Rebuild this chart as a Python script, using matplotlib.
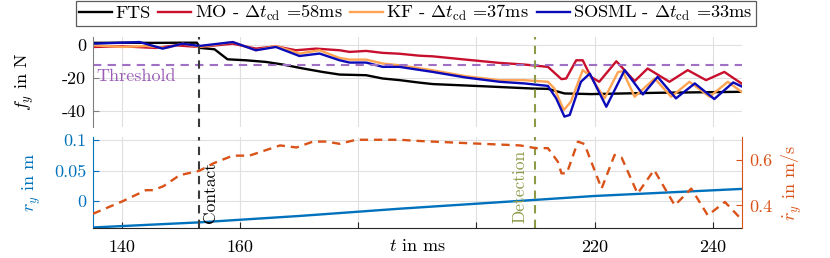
import numpy as np
import matplotlib
matplotlib.use('Agg')
import matplotlib.pyplot as plt

plt.rcParams['font.family'] = 'serif'
plt.rcParams['font.serif'] = ['cmr10']
plt.rcParams['mathtext.fontset'] = 'cm'
plt.rcParams['axes.unicode_minus'] = False
plt.rcParams['font.size'] = 13

###---data---###
# force f_y in N
t_fts = [135, 140, 145, 150, 152.6, 153.2, 155.6, 157.8, 160.9, 164.3, 167.2, 170.6, 173.9, 176.8,
         181.3, 184.1, 187, 190.3, 192.6, 201, 209.5, 212.1, 214.9, 219.4, 230.7, 245]
f_fts = [1.2, 1.3, 1.2, 1.3, 1.3, -1.9, -2.7, -8.8, -9.4, -10.4, -12.0, -14.4, -16.5, -18.1,
         -18.5, -20.5, -21.5, -23.0, -23.9, -25.2, -26.6, -26.8, -29.6, -30.0, -29.2, -28.6]

t_mo = [135, 140, 145.7, 149.1, 153, 158.7, 162.6, 166, 169.4, 172.8, 176.8, 178.5, 181.3, 184.1,
        186.9, 190.3, 192.6, 198.2, 203.9, 208.1, 212.1, 214.4, 215.2, 216.9, 218.0, 219.4, 220.8,
        223.7, 226.8, 229.0, 232.7, 235.8, 238.9, 242.0, 244.9]
f_mo = [-1.3, -0.9, -1.9, -0.3, -1.3, 0.7, -2.3, -0.9, -3.3, -2.3, -3.3, -4.3, -3.7, -4.9,
        -5.4, -6.6, -7.0, -9.0, -11.0, -12.0, -13.4, -20.9, -20.5, -9.4, -9.4, -19.5, -22.5,
        -10.0, -22.1, -14.4, -22.5, -15.4, -21.5, -16.5, -23.5]

t_kf = [135, 140, 144, 147.4, 150.2, 153, 158.7, 162.6, 166, 170, 173.4, 176.8, 178.5, 181.3, 184.1,
        186.9, 192.6, 198.2, 203.9, 208.1, 212.1, 213.2, 214.8, 216.0, 218.0, 219.2, 221.7, 224.0,
        224.8, 226.8, 230.2, 233.0, 236.1, 239.5, 242.6, 244.9]
f_kf = [-0.3, -1.3, -0.7, -1.9, 0.7, -1.3, 1.7, -3.3, -0.7, -5.3, -3.3, -8.0, -9.0, -9.0, -11.4,
        -12.4, -15.5, -19.1, -21.5, -21.5, -22.5, -26.6, -39.7, -34.6, -15.4, -18.5, -32.6, -16.5,
        -16.1, -31.6, -20.5, -31.6, -22.5, -31.6, -22.5, -28.6]

t_sosml = [135, 142.9, 146.8, 150.2, 153, 158.7, 162.6, 166, 170, 173.4, 176.8, 178.5, 181.3, 184.1,
           186.9, 192.6, 198.2, 203.9, 208.1, 212.1, 213.5, 214.9, 215.8, 217.7, 219.2, 222.0, 225.1,
           228.2, 230.7, 233.8, 237.0, 240.3, 243.5, 245.1]
f_sosml = [0.7, 1.7, -2.3, 0.7, -0.7, 1.7, -3.3, -1.3, -6.8, -5.3, -9.4, -10.8, -10.8, -13.4,
           -13.4, -16.5, -19.9, -22.5, -23.5, -25.0, -32.6, -43.7, -42.7, -22.5, -17.5, -37.7, -15.4,
           -30.2, -19.5, -32.6, -23.5, -33.0, -22.9, -25.6]

threshold = -12
t_contact = 152.9
t_detect = 209.9

# position r_y in m and velocity dr_y in m/s
t_r = [135, 153, 170, 187, 210, 220, 245]
r_y = [-0.044, -0.0356, -0.025, -0.013, 0.0016, 0.008, 0.0197]

t_rd = [135, 140, 144, 145.2, 146.9, 149.7, 153, 155.4, 158.7, 161.5, 164.4, 166.7, 169.5, 172.3,
        174.6, 176.8, 179.6, 187, 190, 198.4, 207.4, 210, 212.1, 213.8, 214.4, 215.3, 217.2, 218.3,
        221.2, 223.4, 224.6, 227.3, 230.1, 233.6, 236.4, 239.2, 242.1, 244.8]
rd_y = [0.363, 0.418, 0.467, 0.467, 0.484, 0.533, 0.552, 0.585, 0.619, 0.619, 0.644, 0.664, 0.655, 0.681,
        0.681, 0.671, 0.689, 0.689, 0.684, 0.674, 0.664, 0.652, 0.652, 0.592, 0.541, 0.541, 0.681, 0.67,
        0.474, 0.622, 0.61, 0.452, 0.556, 0.4, 0.474, 0.356, 0.415, 0.341]

labels = ['FTS', r'MO - $\Delta t_{\mathrm{cd}}$ =58ms', r'KF - $\Delta t_{\mathrm{cd}}$ =37ms',
          r'SOSML - $\Delta t_{\mathrm{cd}}$ =33ms']

c_blue = '#0072BD'
c_orange = '#D95319'
c_purple = '#A070C4'
c_olive = '#8E9A48'
c_grid = '#E0E0E0'

fig = plt.figure(figsize=(8.3, 2.58), dpi=100)
ax1 = fig.add_axes([0.112, 0.508, 0.782, 0.350])
ax2 = fig.add_axes([0.112, 0.116, 0.782, 0.352])
ax3 = ax2.twinx()

xticks = [140, 160, 180, 200, 220, 240]

#---top: forces---#
l1, = ax1.plot(t_fts, f_fts, color='black', lw=1.7)
l2, = ax1.plot(t_mo, f_mo, color='#C8102E', lw=1.7)
l3, = ax1.plot(t_kf, f_kf, color='#FFA452', lw=1.7)
l4, = ax1.plot(t_sosml, f_sosml, color='#0A0AB8', lw=1.7)
ax1.axhline(threshold, color=c_purple, ls=(0, (4, 3)), lw=1.5)
ax1.text(135.6, threshold - 2.8, 'Threshold', color='#9A5CB6', ha='left', va='top', fontsize=13)
ax1.axvline(t_contact, color='#3A3A3A', ls=(0, (4, 3)), lw=1.5)
ax1.axvline(t_detect, color=c_olive, ls=(0, (4, 3)), lw=1.5)
ax1.set_xlim(135, 245)
ax1.set_ylim(-50, 5)
ax1.set_yticks([-40, -20, 0])
ax1.set_yticklabels(['-40', '-20', '0'])
ax1.set_xticks(xticks)
ax1.tick_params(axis='x', length=0, labelbottom=False)
ax1.tick_params(axis='y', direction='in', length=4, color='#808080', pad=5)
for s in ['top', 'right', 'bottom']:
    ax1.spines[s].set_visible(False)
ax1.spines['left'].set_color('#808080')
ax1.grid(True, color=c_grid, lw=0.8)
ax1.set_axisbelow(True)
ax1.set_ylabel(r'$f_y$ in N')
ax1.yaxis.set_label_coords(-0.088, 0.5)

#---bottom: position and velocity---#
ax2.plot(t_r, r_y, color=c_blue, lw=1.7)
ax2.axvline(t_contact, color='#3A3A3A', ls=(0, (4, 3)), lw=1.5)
ax2.axvline(t_detect, color=c_olive, ls=(0, (4, 3)), lw=1.5)
ax2.text(t_contact + 0.7, -0.036, 'Contact', rotation=90, ha='left', va='bottom', color='black', fontsize=12.5)
ax2.text(t_detect - 1.3, -0.036, 'Detection', rotation=90, ha='right', va='bottom', color=c_olive, fontsize=12.5)
ax2.set_xlim(135, 245)
ax2.set_ylim(-0.045, 0.105)
ax2.set_yticks([0, 0.05, 0.1])
ax2.set_yticklabels(['0', '0.05', '0.1'])
ax2.set_xticks(xticks)
ax2.set_xticklabels(['140', '160', '', '', '220', '240'])
ax2.tick_params(axis='x', direction='in', length=4, color='#262626', pad=8)
ax2.tick_params(axis='y', direction='in', length=4, color=c_blue, labelcolor=c_blue, pad=5)
ax2.spines['top'].set_visible(False)
ax2.spines['right'].set_visible(False)
ax2.spines['left'].set_color(c_blue)
ax2.spines['bottom'].set_color('#262626')
ax2.grid(True, color=c_grid, lw=0.8)
ax2.set_axisbelow(True)
ax2.set_ylabel(r'$r_y$ in m', color=c_blue)
ax2.yaxis.set_label_coords(-0.077, 0.5)
ax2.set_xlabel(r'$t$ in ms')
ax2.xaxis.set_label_coords(0.5, -0.11)

ax3.plot(t_rd, rd_y, color=c_orange, lw=1.7, ls=(0, (3.5, 2.5)))
ax3.set_ylim(0.3, 0.7)
ax3.set_yticks([0.4, 0.6])
ax3.set_yticklabels(['0.4', '0.6'])
ax3.tick_params(axis='y', direction='in', length=4, color=c_orange, labelcolor=c_orange, pad=5)
ax3.spines['top'].set_visible(False)
ax3.spines['left'].set_visible(False)
ax3.spines['bottom'].set_visible(False)
ax3.spines['right'].set_color(c_orange)
ax3.set_ylabel(r'$\dot{r}_y$ in m/s', color=c_orange)
ax3.yaxis.set_label_coords(1.0586, 0.5)

leg = fig.legend([l1, l2, l3, l4], labels, loc='upper center', bbox_to_anchor=(0.501, 0.998),
                 ncol=4, frameon=True, fancybox=False, edgecolor='#333333', fontsize=13.2,
                 handlelength=1.8, handletextpad=0.2, columnspacing=0.4, borderpad=0.15,
                 borderaxespad=0)
leg.get_frame().set_linewidth(0.9)

fig.savefig('out.png', dpi=100)
